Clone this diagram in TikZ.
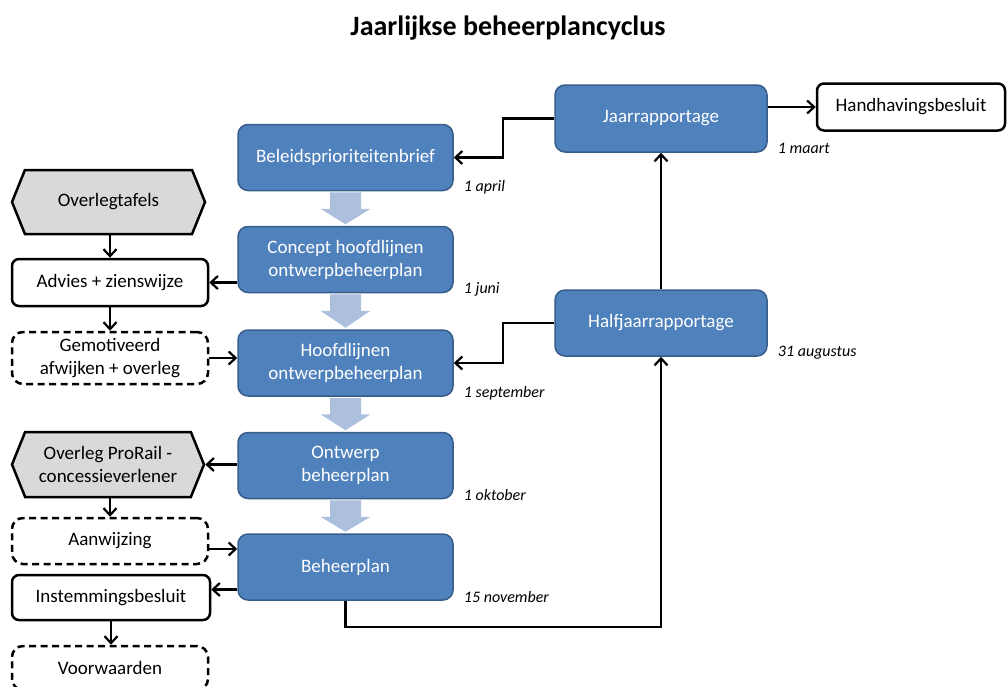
\documentclass[tikz,border=0pt]{standalone}
\usepackage{fontspec}
\setmainfont{Carlito}
\usetikzlibrary{arrows.meta,calc,positioning,shapes.symbols}

\definecolor{phaseblue}{RGB}{79,129,189}
\definecolor{phaseedge}{RGB}{56,93,138}
\definecolor{flowblue}{RGB}{172,192,222}
\definecolor{partygray}{RGB}{217,217,217}

\tikzset{
  boxtext/.style={font=\fontsize{19}{23}\selectfont, align=center, inner sep=2pt},
  phase/.style={boxtext, rectangle, rounded corners=10pt, fill=phaseblue, draw=phaseedge,
    line width=1.5pt, text=white, minimum width=215pt, minimum height=66pt},
  outcome/.style={boxtext, rectangle, rounded corners=7pt, draw, line width=2.5pt,
    fill=white, minimum width=196pt, minimum height=47pt},
  option/.style={outcome, rounded corners=11pt, dash pattern=on 7pt off 4.5pt},
  party/.style={boxtext, signal, signal to=west and east, signal pointer angle=136,
    draw, line width=2.5pt, fill=partygray, minimum width=193pt, minimum height=64pt},
  date/.style={anchor=west, inner sep=0pt, font=\fontsize{16}{18}\selectfont\itshape},
  conn/.style={draw, line width=2.2pt, -{Straight Barb[length=7pt,width=13pt]}},
}

\begin{document}
\begin{tikzpicture}[x=1pt, y=-1pt]
  \useasboundingbox (0,0) rectangle (1008,686);
  \clip (0,0) rectangle (1008,686);

  \node[font=\bfseries\fontsize{28}{32}\selectfont] (title) at (508,28) {Jaarlijkse beheerplancyclus};

  % hoofdlijn van de cyclus
  \node[phase] (brief)   at (345.5,157.5) {Beleidsprioriteitenbrief};
  \node[phase] (concept) at (345.5,259.5) {Concept hoofdlijnen\\ontwerpbeheerplan};
  \node[phase] (hoofd)   at (345.5,363)   {Hoofdlijnen\\ontwerpbeheerplan};
  \node[phase] (ontwerp) at (345.5,465.5) {Ontwerp\\beheerplan};
  \node[phase] (plan)    at (345.5,567)   {Beheerplan};

  % rapportages
  \node[phase, minimum width=212pt, minimum height=67pt] (jaar) at (661,118.5) {Jaarrapportage};
  \node[phase, minimum width=212pt] (half) at (661,323) {Halfjaarrapportage};
  \node[outcome, minimum width=188pt] (hand) at (911,107) {Handhavingsbesluit};

  % linkerkolom
  \node[party] (tafels) at (108.5,202) {Overlegtafels};
  \node[outcome] (advies) at (110,282.5) {Advies + zienswijze};
  \node[option, minimum height=52pt] (gemot) at (110,358) {Gemotiveerd\\afwijken + overleg};
  \node[party, minimum width=192pt, minimum height=65pt] (prorail) at (108,464.5) {Overleg ProRail -\\concessieverlener};
  \node[option, minimum height=46pt] (aanw) at (110,541) {Aanwijzing};
  \node[outcome, minimum width=198pt, minimum height=45pt] (instem) at (111,597.5) {Instemmingsbesluit};
  \node[option, minimum height=44pt] (voorw) at (110,668) {Voorwaarden};

  % brede pijlen tussen de fasen
  \foreach \a/\b in {brief/concept, concept/hoofd, hoofd/ontwerp, ontwerp/plan}
    \fill[flowblue] ($(\a.south)+(-15.5,1)$) -- ($(\a.south)+(15.5,1)$) -- ($(\a.south)+(15.5,17.5)$)
      -- ($(\a.south)+(25,17.5)$) -- ($(\b.north)+(0,-1.5)$) -- ($(\a.south)+(-25,17.5)$)
      -- ($(\a.south)+(-15.5,17.5)$) -- cycle;

  % data
  \foreach \n/\d in {brief/1 april, concept/1 juni, hoofd/1 september, ontwerp/1 oktober,
                     plan/15 november, jaar/1 maart, half/31 augustus}
    \node[date] (d-\n) at ($(\n.south east)+(10,-4)$) {\d};

  % verbindingen
  \draw[conn] (advies.north |- tafels.south) -- (advies.north);
  \draw[conn] (advies) -- (gemot);
  \draw[conn] (advies.east -| concept.west) -- (advies.east);
  \draw[conn] (gemot.east) -- (gemot.east -| hoofd.west);
  \draw[conn] (prorail.east -| ontwerp.west) -- (prorail.east);
  \draw[conn] (aanw.north |- prorail.south) -- (aanw.north);
  \draw[conn] ([yshift=-8pt]aanw.east) -- ([yshift=-8pt]aanw.east -| plan.west);
  \draw[conn] ([yshift=8pt]instem.east -| plan.west) -- ([yshift=8pt]instem.east);
  \draw[conn] (instem) -- (instem |- voorw.north);
  \draw[conn] (jaar.west) -- ++(-51,0) |- (brief.east);
  \draw[conn] (half.west) -- ++(-51,0) |- (hoofd.east);
  \draw[conn] (half) -- (jaar);
  \draw[conn] (plan.south) -- ++(0,26) -| (half.south);
  \draw[conn] (hand.west -| jaar.east) -- (hand.west);
\end{tikzpicture}
\end{document}
